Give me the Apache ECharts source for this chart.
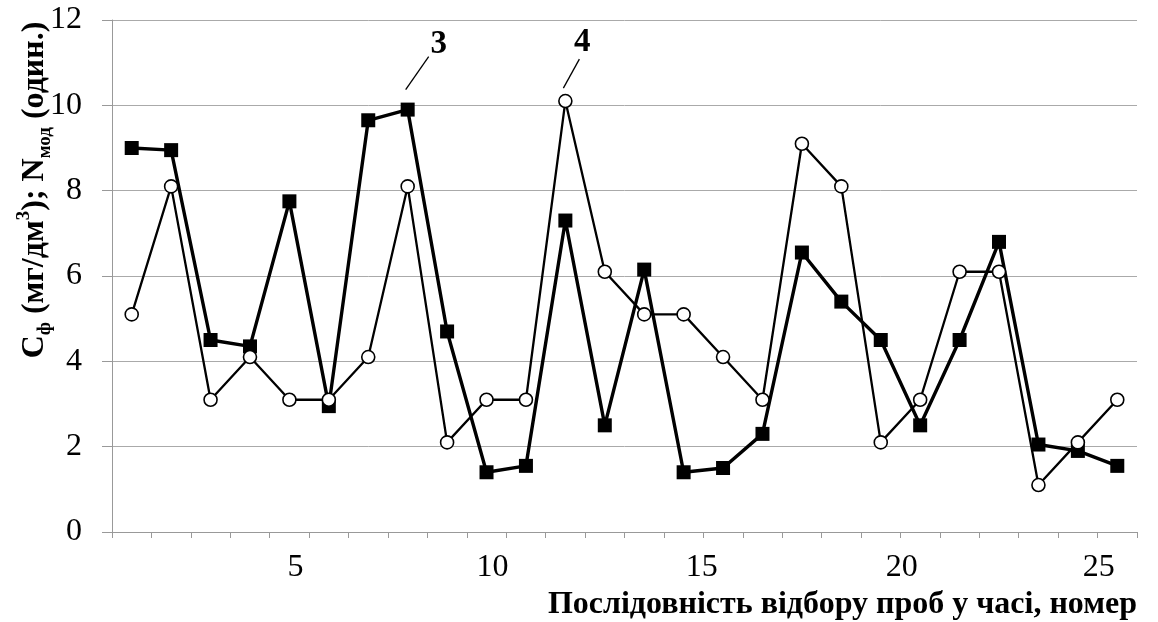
<!DOCTYPE html>
<html>
<head>
<meta charset="utf-8">
<script src="https://cdn.jsdelivr.net/npm/echarts@6/dist/echarts.min.js"></script>
<style>html,body{margin:0;padding:0;background:#fff;}#c{width:1158px;height:622px;}</style>
</head>
<body>
<div id="c"></div>
<script>
var categories = ['1','2','3','4','5','6','7','8','9','10','11','12','13','14','15','16','17','18','19','20','21','22','23','24','25','26'];
var tickLabels = ['5','10','15','20','25'];
var series3 = [9.0, 8.95, 4.5, 4.35, 7.75, 2.95, 9.65, 9.9, 4.7, 1.4, 1.55, 7.3, 2.5, 6.15, 1.4, 1.5, 2.3, 6.55, 5.4, 4.5, 2.5, 4.5, 6.8, 2.05, 1.9, 1.55];
var series4 = [5.1, 8.1, 3.1, 4.1, 3.1, 3.1, 4.1, 8.1, 2.1, 3.1, 3.1, 10.1, 6.1, 5.1, 5.1, 4.1, 3.1, 9.1, 8.1, 2.1, 3.1, 6.1, 6.1, 1.1, 2.1, 3.1];
var yTicks = [0, 2, 4, 6, 8, 10, 12];
var yTitle = '{b|C}{sub|ф}{b| (мг/дм}{sup|3}{b|); N}{sub|мод}{b| (один.)}';

var serif = '"Liberation Serif", "DejaVu Serif", serif';
// label style shift per tick (style only)
var labelStyleKey = { '5': 's1', '10': 's1', '15': 's2', '20': 's3', '25': 's3' };
var chart = echarts.init(document.getElementById('c'));
chart.setOption({
  animation: false,
  backgroundColor: '#fff',
  grid: { left: 112, right: 21, top: 20, bottom: 90, containLabel: false, outerBoundsMode: 'none' },
  xAxis: {
    type: 'category',
    data: categories,
    boundaryGap: true,
    name: 'Послідовність відбору проб у часі, номер',
    nameLocation: 'end',
    nameGap: 0,
    nameTextStyle: { fontFamily: serif, fontWeight: 'bold', fontSize: 32, color: '#000', align: 'right', verticalAlign: 'top', padding: [57, 0, 0, 0] },
    axisLine: { show: true, lineStyle: { color: '#999', width: 1 } },
    axisTick: { show: true, interval: 0, length: 6, lineStyle: { color: '#999' } },
    axisLabel: {
      interval: 0, margin: 20, fontFamily: serif, fontSize: 32, color: '#000',
      formatter: function (v) { return tickLabels.indexOf(v) >= 0 ? '{' + labelStyleKey[v] + '|' + v + '}' : ''; },
      rich: {
        s1: { fontFamily: serif, fontSize: 32, color: '#000', padding: [0, 0, 0, 12] },
        s2: { fontFamily: serif, fontSize: 32, color: '#000', padding: [0, 0, 0, 36] },
        s3: { fontFamily: serif, fontSize: 32, color: '#000', padding: [0, 0, 0, 42] }
      }
    },
    splitLine: { show: false }
  },
  yAxis: {
    type: 'value',
    min: yTicks[0], max: yTicks[yTicks.length - 1], interval: 2,
    axisLine: { show: true, lineStyle: { color: '#999', width: 1 } },
    axisTick: { show: true, length: 10, lineStyle: { color: '#999' } },
    axisLabel: { margin: 30, fontFamily: serif, fontSize: 32, color: '#000' },
    splitLine: { show: true, lineStyle: { color: '#aaa', width: 1 } }
  },
  series: [
    {
      name: '3', type: 'line', data: series3,
      symbol: 'rect', symbolSize: 14,
      lineStyle: { color: '#000', width: 3.4 },
      itemStyle: { color: '#000', borderColor: '#000', borderWidth: 0 },
      z: 2
    },
    {
      name: '4', type: 'line', data: series4,
      symbol: 'circle', symbolSize: 13,
      lineStyle: { color: '#000', width: 2.3 },
      itemStyle: { color: '#fff', borderColor: '#000', borderWidth: 1.6 },
      z: 3
    }
  ]
});

function annot(label, idx, data, dx1, dy1, dx2, dy2, tx, ty) {
  var p = chart.convertToPixel({ seriesIndex: 0 }, [idx, data[idx]]);
  return [
    { type: 'line', shape: { x1: p[0] + dx1, y1: p[1] + dy1, x2: p[0] + dx2, y2: p[1] + dy2 }, style: { stroke: '#000', lineWidth: 1.3 }, z: 10 },
    { type: 'text', x: p[0] + tx, y: p[1] + ty, style: { text: label, fontFamily: serif, fontWeight: 'bold', fontSize: 33, fill: '#000', align: 'center', verticalAlign: 'middle' }, z: 10 }
  ];
}
var i3 = series3.indexOf(Math.max.apply(null, series3));
var i4 = series4.indexOf(Math.max.apply(null, series4));
chart.setOption({
  graphic: [].concat(
    annot('3', i3, series3, -2, -20, 21, -53, 31, -65),
    annot('4', i4, series4, -2, -13, 14, -42, 17, -59),
    [{
      type: 'text', x: 35, y: 190, rotation: Math.PI / 2,
      style: {
        text: yTitle, align: 'center', verticalAlign: 'middle',
        fontFamily: serif, fontWeight: 'bold', fontSize: 32, fill: '#000',
        rich: {
          b: { fontFamily: serif, fontWeight: 'bold', fontSize: 32, fill: '#000', lineHeight: 40, verticalAlign: 'middle' },
          sub: { fontFamily: serif, fontWeight: 'bold', fontSize: 19, fill: '#000', lineHeight: 40, verticalAlign: 'bottom' },
          sup: { fontFamily: serif, fontWeight: 'bold', fontSize: 19, fill: '#000', lineHeight: 40, verticalAlign: 'top' }
        }
      },
      z: 10
    }]
  )
});
</script>
</body>
</html>
